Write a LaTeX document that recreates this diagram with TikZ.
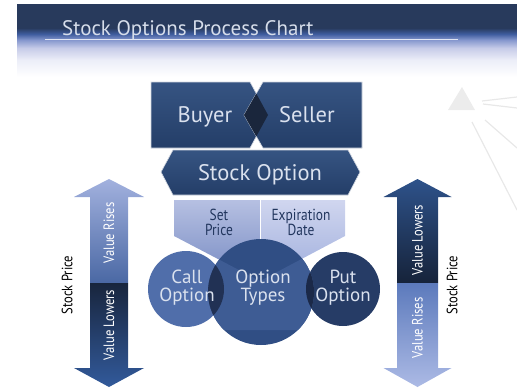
\documentclass[tikz,border=0pt]{standalone}
\usepackage{fontspec}
\setmainfont{PT Sans}
\newfontfamily\narrowfont[FakeStretch=0.84]{PT Sans}
\usepackage{tikz}
\usetikzlibrary{positioning}
\definecolor{hdrNavy}{RGB}{40,58,92}
\definecolor{hdrBlue}{RGB}{62,92,158}
\definecolor{hdrMid}{RGB}{135,152,206}
\definecolor{hdrLav}{RGB}{198,203,232}
\definecolor{hdrPale}{RGB}{236,238,248}
\definecolor{titleT}{RGB}{214,221,234}
\definecolor{navyA}{RGB}{54,84,130}
\definecolor{navyB}{RGB}{36,62,104}
\definecolor{knot}{RGB}{26,38,60}
\definecolor{paleT}{RGB}{218,225,238}
\definecolor{inkT}{RGB}{34,54,94}
\definecolor{lavLT}{RGB}{182,192,226}
\definecolor{lavLB}{RGB}{118,138,194}
\definecolor{lavRT}{RGB}{208,214,239}
\definecolor{lavRB}{RGB}{158,173,220}
\definecolor{callC}{RGB}{80,110,170}
\definecolor{typesC}{RGB}{48,78,132}
\definecolor{facetC}{RGB}{62,92,148}
\definecolor{putC}{RGB}{38,60,102}
\definecolor{lapL}{RGB}{33,49,84}
\definecolor{lapR}{RGB}{27,41,72}
\definecolor{upLT}{RGB}{162,177,222}
\definecolor{upLB}{RGB}{74,104,164}
\definecolor{dnLT}{RGB}{24,37,61}
\definecolor{dnLB}{RGB}{50,90,155}
\definecolor{upRT}{RGB}{46,82,138}
\definecolor{upRB}{RGB}{22,35,58}
\definecolor{dnRT}{RGB}{92,122,188}
\definecolor{dnRB}{RGB}{172,186,229}
\pgfdeclareverticalshading{header}{100bp}{color(0bp)=(white); color(25bp)=(white);
  color(36.6bp)=(hdrPale); color(44.9bp)=(hdrLav); color(50.3bp)=(hdrMid);
  color(54.5bp)=(hdrBlue); color(58.6bp)=(hdrNavy); color(100bp)=(hdrNavy)}
\tikzset{panel/.style={draw=white!80!navyB,line width=0.6pt},
         boxlabel/.style={text=paleT,font=\fontsize{22.5}{24}\selectfont,inner sep=0pt,anchor=base},
         bubble/.style={text=paleT,font=\fontsize{19}{18}\selectfont,align=center,inner sep=0pt},
         tag/.style={text=inkT,font=\narrowfont\fontsize{16}{15}\selectfont,align=center,inner sep=0pt},
         arrowlabel/.style={text=white,font=\narrowfont\fontsize{15}{16}\selectfont,rotate=90,inner sep=0pt},
         sidelabel/.style={arrowlabel,text=black},
         ghost/.style={draw=gray!18,line width=1.2pt}}

\begin{document}
\begin{tikzpicture}[x=1pt,y=-1pt]
    \useasboundingbox (0,0) rectangle (517,388);
    % Header
    \shade[shading=header] (17,4) rectangle (517,77);
    \draw[white!75!hdrMid,line width=0.5pt] (45,39) -- (458,39);
    \node (title) at (62,35) [anchor=base west,inner sep=0pt,text=titleT,font=\fontsize{21}{22}\selectfont]{Stock Options Process Chart};
    % Decoration
    \fill[gray!15] (462,87) -- (475,110) -- (448,110) -- cycle;
    \draw[ghost] (482,101) -- (517,97);
    \draw[ghost] (483,104) -- (517,108);
    \draw[ghost] (485,120) -- (517,148);
    \draw[ghost] (472,122) -- (517,210);
    % Buyer and seller
    \shade[panel,top color=navyA,bottom color=navyB] (151,82) -- (250,82) -- (268,115) -- (250,148) -- (151,148) -- cycle;
    \shade[panel,top color=navyA,bottom color=navyB] (362,82) -- (263,82) -- (244,115) -- (263,148) -- (362,148) -- cycle;
    \fill[knot] (244,115) -- (256.3,93.6) -- (268,115) -- (256.3,136.4) -- cycle;
    \node (buyer) at (205,122) [boxlabel]{Buyer};
    \node (seller) at (307,122) [boxlabel]{Seller};
    % Stock option
    \shade[panel,top color=navyA,bottom color=navyB] (161,172) -- (173,150) -- (348,150) -- (360,172) -- (348,195) -- (173,195) -- cycle;
    \node (stockopt) at (260,180) [boxlabel]{Stock Option};
    % Terms
    \shade[top color=lavLT,bottom color=lavLB] (174,200) -- (260,200) -- (260,281) -- (174,236) -- cycle;
    \shade[top color=lavRT,bottom color=lavRB] (260,200) -- (345,200) -- (345,236) -- (260,281) -- cycle;
    \draw[white,line width=0.6pt] (260,200) -- (260,281);
    \node (setprice) at (219,222) [tag]{Set\\Price};
    \node (expdate) at (301,222) [tag]{Expiration\\Date};
    % Option types
    \fill[callC] (186,289) circle[radius=38];
    \fill[putC] (343,289) circle[radius=37];
    \fill[typesC] (261,292) circle[radius=53];
    \begin{scope}
      \clip (261,292) circle[radius=53];
      \fill[facetC] (174,236) -- (260,281) -- (345,236) -- (345,330) -- (174,330) -- cycle;
      \fill[lapL] (186,289) circle[radius=38];
      \fill[lapR] (343,289) circle[radius=37];
    \end{scope}
    \node (call) at (187,288) [bubble]{Call\\Option};
    \node (types) at (263,288) [bubble]{Option\\Types};
    \node (put) at (343,288) [bubble]{Put\\Option};
    % Left price arrow
    \shade[top color=upLT,bottom color=upLB] (109,179) -- (144,197) -- (128,197) -- (128,283) -- (90,283) -- (90,197) -- (74,197) -- cycle;
    \shade[top color=dnLT,bottom color=dnLB] (90,283) -- (128,283) -- (128,368) -- (144,368) -- (109,387) -- (74,368) -- (90,368) -- cycle;
    \node (risesL) at (109,233) [arrowlabel]{Value Rises};
    \node (lowersL) at (109,325) [arrowlabel]{Value Lowers};
    \node (priceL) at (67,285) [sidelabel]{Stock Price};
    % Right price arrow
    \shade[top color=upRT,bottom color=upRB] (417.5,179) -- (451.5,197) -- (438,197) -- (438,283) -- (397,283) -- (397,197) -- (383.5,197) -- cycle;
    \shade[top color=dnRT,bottom color=dnRB] (397,283) -- (438,283) -- (438,368) -- (451.5,368) -- (417.5,387) -- (383.5,368) -- (397,368) -- cycle;
    \node (lowersR) at (417.5,240) [arrowlabel]{Value Lowers};
    \node (risesR) at (417.5,328) [arrowlabel]{Value Rises};
    \node (priceR) at (452,285) [sidelabel]{Stock Price};
  \end{tikzpicture}
\end{document}
